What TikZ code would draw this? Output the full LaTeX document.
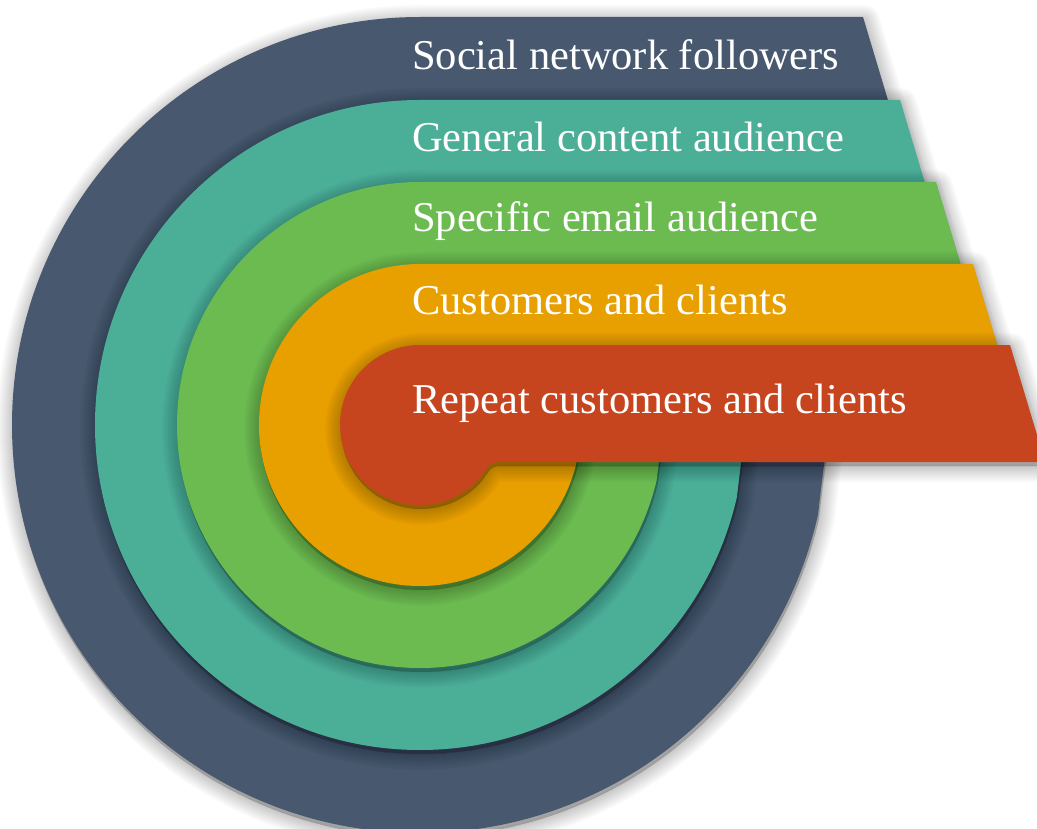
\documentclass[tikz,border=0pt]{standalone}
\usepackage{fontspec}
\setmainfont{Liberation Serif}
\definecolor{cNavy}{HTML}{47586F}
\definecolor{cTeal}{HTML}{4BAF98}
\definecolor{cGreen}{HTML}{6CBB51}
\definecolor{cOrange}{HTML}{E89F00}
\definecolor{cRed}{HTML}{C6451F}
\newcommand\audlayer[4]{%
  \pgfmathsetmacro\yt{425-#1}%
  \pgfmathsetmacro\ae{asin((#3-425)/#1)}%
  \pgfmathsetmacro\af{\ae+12}%
  \pgfmathsetmacro\xi{420+#1*cos(\ae)}%
  \pgfmathsetmacro\xj{\xi+11}%
  \pgfmathsetmacro\xb{#2+0.3*(#3-\yt)}%
  \foreach \w in {2,5,8,11,14,17,20,23,26,29,32}{%
    \fill[shadowlayer, line width=\w pt]
      (#2,\yt) -- (420,\yt) arc[start angle=270,end angle=\af,radius=#1]
      .. controls (\xi,#3) .. (\xj,#3) -- (\xb,#3) -- cycle;
  }%
  \fill[#4] (#2,\yt) -- (420,\yt) arc[start angle=270,end angle=\af,radius=#1]
      .. controls (\xi,#3) .. (\xj,#3) -- (\xb,#3) -- cycle;
}
\begin{document}
\begin{tikzpicture}[x=1pt,y=-1pt,
  shadowlayer/.style={draw=black, fill=black, opacity=0.02, line join=round, yshift=-4pt, xshift=1pt},
  lbl/.style={anchor=base west, text=white, inner sep=0pt, font=\fontsize{42.5}{42.5}\selectfont}]
\useasboundingbox (0,0) rectangle (1037,829);
\fill[white] (0,0) rectangle (1037,829);
\clip (0,0) rectangle (1037,829);
\audlayer{408}{863}{430}{cNavy}
\audlayer{325}{900}{430}{cTeal}
\audlayer{243}{936}{430}{cGreen}
\audlayer{161}{973}{430}{cOrange}
\audlayer{80}{1010}{462}{cRed}
\node[lbl] (social) at (412,70) {Social network followers};
\node[lbl] (general) at (412,152) {General content audience};
\node[lbl] (specific) at (412,232) {Specific email audience};
\node[lbl] (customers) at (412,315) {Customers and clients};
\node[lbl] (repeat) at (412,413) {Repeat customers and clients};
\end{tikzpicture}
\end{document}
